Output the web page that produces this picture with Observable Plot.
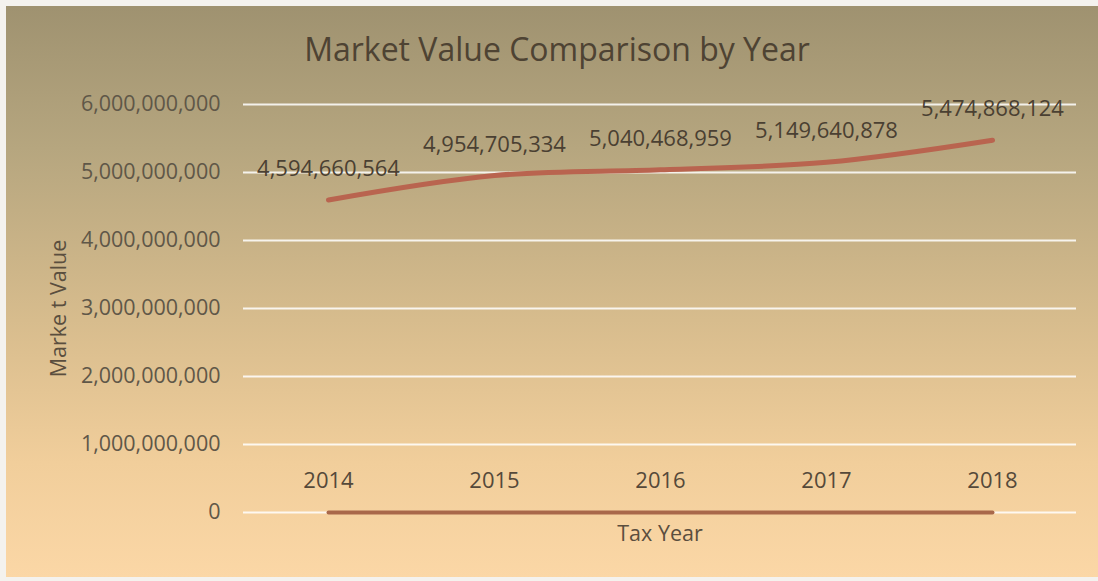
<!DOCTYPE html>
<html>
<head>
<meta charset="utf-8">
<script src="https://cdn.jsdelivr.net/npm/d3@7"></script>
<script src="https://cdn.jsdelivr.net/npm/@observablehq/plot@0.6"></script>
<style>
  html, body { margin: 0; padding: 0; background: #ffffff; }
  #wrap { position: relative; width: 1098px; height: 581px; overflow: hidden; background: #f4f2ee; }
  #panel { position: absolute; left: 6px; top: 6px; width: 1092px; height: 571px;
           background: linear-gradient(to bottom, #9f9270 0%, #b6a67f 25%, #d7bc8d 55%, #f1ce9b 80%, #fbd7a6 100%); }
  #title { position: absolute; left: 0; top: 27px; width: 1114px; text-align: center;
           font-family: "Open Sans", sans-serif; font-size: 32px; color: #4e4333; line-height: 44px; }
  #chart { position: absolute; left: 0; top: 0; }
  svg { background: transparent !important; }
</style>
</head>
<body>
<div id="wrap">
  <div id="panel"></div>
  <div id="title">Market Value Comparison by Year</div>
  <div id="chart"></div>
</div>
<script>
const years = ["2014", "2015", "2016", "2017", "2018"];
const marketValues = [4594660564, 4954705334, 5040468959, 5149640878, 5474868124];
const secondSeries = [0, 0, 0, 0, 0];
const yTicks = [0, 1e9, 2e9, 3e9, 4e9, 5e9, 6e9];

const main = years.map((y, i) => ({year: y, value: marketValues[i]}));
const zero = years.map((y, i) => ({year: y, value: secondSeries[i]}));
const fmt = d3.format(",");

const chart = Plot.plot({
  width: 1098,
  height: 581,
  marginLeft: 243,
  marginRight: 22,
  marginTop: 104,
  marginBottom: 69,
  style: {background: "transparent", fontFamily: "Open Sans, sans-serif", overflow: "visible"},
  x: {type: "point", domain: years, padding: 0.5},
  y: {domain: [0, 6e9]},
  marks: [
    Plot.gridY(yTicks, {stroke: "#ffffff", strokeOpacity: 0.85, strokeWidth: 2}),
    Plot.axisY(yTicks, {tickSize: 0, tickPadding: 23, tickFormat: fmt, fontSize: 21.5, fill: "#5f5748", label: null}),
    Plot.axisX({anchor: "bottom", tickSize: 0, tickPadding: 0, dy: -40, fontSize: 22, fill: "#55493a", label: null}),
    Plot.text(["Tax Year"], {frameAnchor: "bottom", dy: 28, fontSize: 21.5, fill: "#5a4e3e"}),
    Plot.text(["Marke t Value"], {frameAnchor: "left", textAnchor: "middle", dx: -184, rotate: -90, fontSize: 21.5, fill: "#5a4e3e"}),
    Plot.line(zero, {x: "year", y: "value", stroke: "#a9684a", strokeWidth: 4}),
    Plot.line(main, {x: "year", y: "value", stroke: "#b9644f", strokeWidth: 5, curve: "catmull-rom"}),
    Plot.text(main, {x: "year", y: "value", text: d => fmt(d.value), dy: -31, fontSize: 22, fill: "#4a4032"})
  ]
});
document.getElementById("chart").appendChild(chart);
</script>
</body>
</html>
